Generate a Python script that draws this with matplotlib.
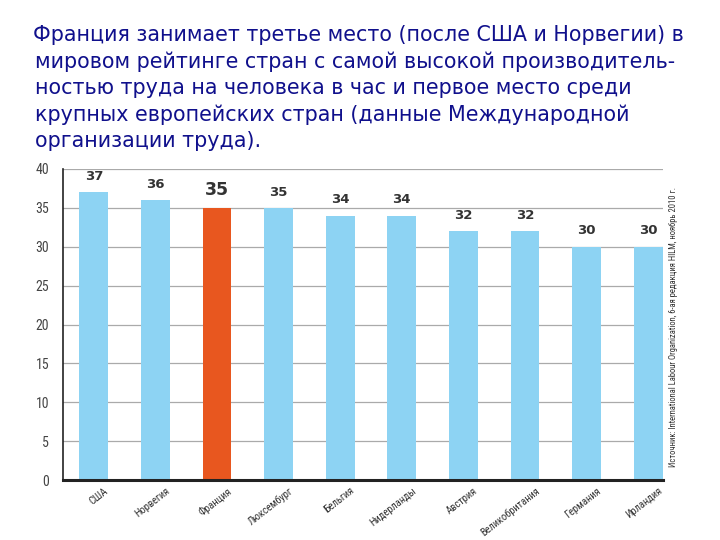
import matplotlib
matplotlib.use("Agg")
import matplotlib.pyplot as plt
from matplotlib import font_manager
from matplotlib.transforms import ScaledTranslation
import numpy as np

plt.rcParams['font.family'] = ['DejaVu Sans']

countries = ['США', 'Норвегия', 'Франция', 'Люксембург', 'Бельгия',
             'Нидерланды', 'Австрия', 'Великобритания', 'Германия', 'Ирландия']
values = [37, 36, 35, 35, 34, 34, 32, 32, 30, 30]
highlight = 'Франция'
yticks = [0, 5, 10, 15, 20, 25, 30, 35, 40]

title_lines = [
    'Франция занимает третье место (после США и Норвегии) в',
    'мировом рейтинге стран с самой высокой производитель-',
    'ностью труда на человека в час и первое место среди',
    'крупных европейских стран (данные Международной',
    'организации труда).',
]
source = 'Источник: International Labour Organization, 6-ая редакция HILM, ноябрь 2010 г.'

blue = '#8dd3f3'
orange = '#e8571f'

# narrow font for the chart labels, if there is one
names = {f.name for f in font_manager.fontManager.ttflist}
narrow = None
for n in ['Liberation Sans Narrow', 'DejaVu Sans Condensed', 'Roboto Condensed']:
    if n in names:
        narrow = n
        break
if narrow:
    lab_font = [narrow, 'DejaVu Sans']
    xl_size, src_size, yl_size = 7.6, 6.2, 10
else:
    lab_font = ['DejaVu Sans']
    xl_size, src_size, yl_size = 6.3, 5, 8.5

fig = plt.figure(figsize=(7.2, 5.4), dpi=100)

# heading text
for i, line in enumerate(title_lines):
    x = 33 if i == 0 else 35
    fig.text(x / 720, 1 - (35 + i * 26.5) / 540, line, fontsize=14.9,
             color='#10108c', va='center', ha='left')

ax = fig.add_axes([63 / 720, 1 - 480 / 540, 600 / 720, 311 / 540])
x = np.arange(len(countries))
colors = [orange if c == highlight else blue for c in countries]
ax.bar(x, values, width=0.47, color=colors, zorder=2)

ax.set_ylim(0, 40)
ax.set_xlim(-0.5, 9.24)
ax.set_yticks(yticks)
ax.set_yticklabels([str(t) for t in yticks], fontsize=yl_size, color='#444444',
                   family=lab_font)
ax.yaxis.grid(True, color='#aaaaaa', linewidth=0.9, zorder=0)
ax.set_axisbelow(True)
ax.tick_params(axis='y', length=0, pad=10)
ax.tick_params(axis='x', length=0, pad=4)

ax.set_xticks(x)
ax.set_xticklabels(countries, rotation=38, ha='right', va='top',
                   rotation_mode='anchor', fontsize=xl_size, color='#333333',
                   family=lab_font)
shift = ScaledTranslation(10 / 100, 0, fig.dpi_scale_trans)
for lab in ax.get_xticklabels():
    lab.set_transform(lab.get_transform() + shift)

for s in ['top', 'right']:
    ax.spines[s].set_visible(False)
ax.spines['left'].set_color('#222222')
ax.spines['left'].set_linewidth(1.2)
ax.spines['bottom'].set_color('#222222')
ax.spines['bottom'].set_linewidth(2.2)

for xi, v, c in zip(x, values, countries):
    big = c == highlight
    ax.text(xi, v + 1.2, str(v), ha='center', va='bottom',
            fontsize=12.5 if big else 9.5, fontweight='bold', color='#333333')

fig.text(674 / 720, 1 - 327 / 540, source, rotation=90, fontsize=src_size,
         color='#333333', ha='center', va='center', family=lab_font)

fig.savefig('out.png', dpi=100, facecolor='white')
